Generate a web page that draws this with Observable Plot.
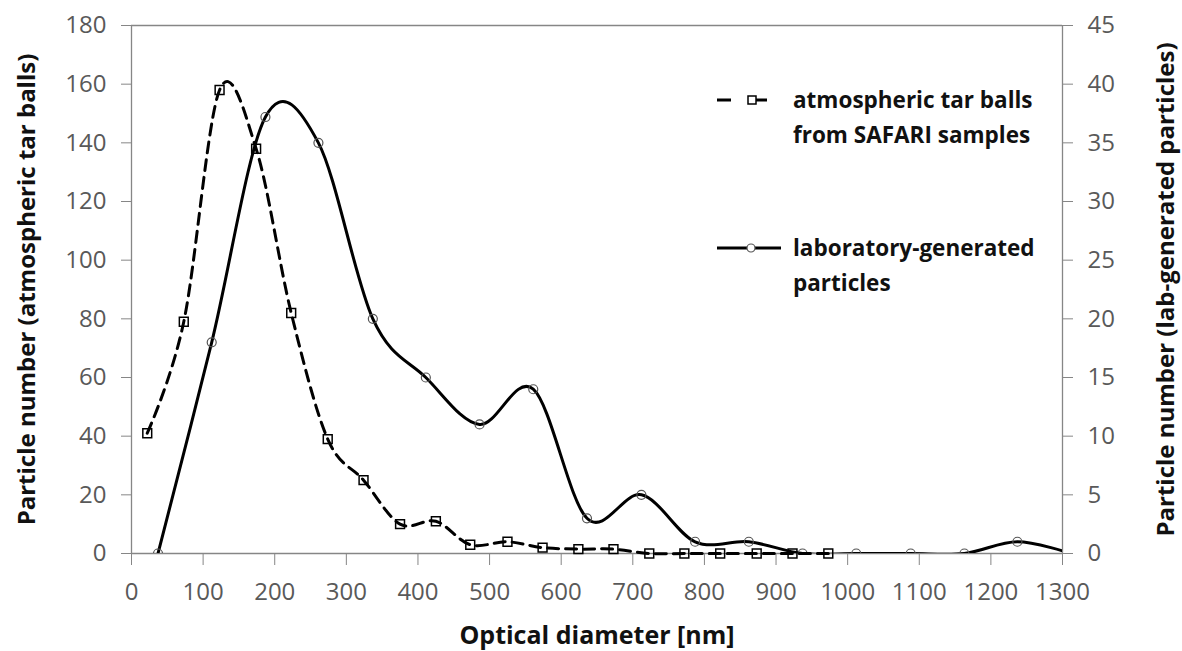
<!DOCTYPE html>
<html>
<head>
<meta charset="utf-8">
<script src="https://cdn.jsdelivr.net/npm/d3@7"></script>
<script src="https://cdn.jsdelivr.net/npm/@observablehq/plot@0.6"></script>
<style>
  html, body { margin: 0; padding: 0; background: #fff; }
  #wrap { position: relative; width: 1182px; height: 651px; font-family: "Open Sans", sans-serif; }
  #legend { position: absolute; left: 717px; top: 0; font-weight: 700; font-size: 22.5px; color: #111; }
  .item { position: absolute; left: 0; white-space: nowrap; }
  .item svg { position: absolute; left: 0; }
  .item .lbl { position: absolute; left: 76px; line-height: 35px; }
</style>
</head>
<body>
<div id="wrap"><div id="legend"></div></div>
<script>
// Atmospheric tar balls (left axis)
const tarX = [22, 73, 123, 174, 223, 274, 324, 375, 425, 473, 525, 574, 624, 673, 723, 772, 822, 873, 923, 973];
const tarY = [41, 79, 158, 138, 82, 39, 25, 10, 11, 3, 4, 2, 1.5, 1.5, 0, 0, 0, 0, 0, 0];
// Laboratory-generated particles (right axis)
const labX = [37, 112, 187, 261, 337, 411, 486, 561, 636, 712, 787, 862, 937, 1012, 1088, 1163, 1237, 1312];
const labY = [0, 18, 37.2, 35, 20, 15, 11, 14, 3, 5, 1, 1, 0, 0, 0, 0, 1, 0];
// Axis ticks
const xTicks = [0, 100, 200, 300, 400, 500, 600, 700, 800, 900, 1000, 1100, 1200, 1300];
const leftTicks = [0, 20, 40, 60, 80, 100, 120, 140, 160, 180];
const rightTicks = [0, 5, 10, 15, 20, 25, 30, 35, 40, 45];
const ratio = 180 / 45;
const legendLabels = [["atmospheric tar balls", "from SAFARI samples"], ["laboratory-generated", "particles"]];

const tar = tarX.map((x, i) => ({x, y: tarY[i]}));
const lab = labX.map((x, i) => ({x, y: labY[i] * ratio}));

const gray = "#868686";
const labelGray = "#595959";

const chart = Plot.plot({
  width: 1182,
  height: 651,
  marginLeft: 131,
  marginRight: 120,
  marginTop: 25,
  marginBottom: 98,
  style: {fontFamily: "'Open Sans', sans-serif", fontSize: "24px", background: "transparent"},
  x: {domain: [0, 1300]},
  y: {domain: [0, 180]},
  marks: [
    Plot.ruleY([180], {stroke: gray, strokeWidth: 1.3}),
    Plot.ruleY([0], {stroke: gray, strokeWidth: 1.3}),
    Plot.ruleX([0], {stroke: gray, strokeWidth: 1.3}),
    Plot.ruleX([1300], {stroke: gray, strokeWidth: 1.3}),
    Plot.axisX(xTicks, {tickSize: 12, tickPadding: 17, stroke: gray, fill: labelGray, label: null, tickFormat: d => String(d)}),
    Plot.axisY(leftTicks, {anchor: "left", tickSize: 10, tickPadding: 15, stroke: gray, fill: labelGray, label: null, tickFormat: d => String(d)}),
    Plot.axisY(rightTicks.map(v => v * ratio), {anchor: "right", tickSize: 10, tickPadding: 15, stroke: gray, fill: labelGray, label: null, tickFormat: d => String(d / ratio)}),
    Plot.line(lab, {x: "x", y: "y", curve: "cardinal", stroke: "#000", strokeWidth: 3, clip: true}),
    Plot.dot(lab, {x: "x", y: "y", r: 4.5, stroke: "#555", strokeWidth: 1.2, fill: "none", clip: true}),
    Plot.line(tar, {x: "x", y: "y", curve: "cardinal", stroke: "#000", strokeWidth: 3, strokeDasharray: "11,7"}),
    Plot.dot(tar, {x: "x", y: "y", symbol: "square", r: 5, stroke: "#000", strokeWidth: 1.5, fill: "none"}),
    Plot.text(["Optical diameter [nm]"], {frameAnchor: "bottom", dy: 90, lineAnchor: "bottom", textAnchor: "middle", fontSize: 25, fontWeight: 700, fill: "#111"}),
    Plot.text(["Particle number (atmospheric tar balls)"], {frameAnchor: "left", dx: -97, rotate: -90, lineAnchor: "bottom", textAnchor: "middle", fontSize: 24, fontWeight: 700, fill: "#111"}),
    Plot.text(["Particle number (lab-generated particles)"], {frameAnchor: "right", dx: 111, rotate: -90, lineAnchor: "bottom", textAnchor: "middle", fontSize: 24, fontWeight: 700, fill: "#111"})
  ]
});
const wrap = document.getElementById("wrap");
wrap.insertBefore(chart, wrap.firstChild);

// Legend
const legend = document.getElementById("legend");
const itemTops = [82, 230];
legendLabels.forEach((lines, i) => {
  const item = document.createElement("div");
  item.className = "item";
  item.style.top = itemTops[i] + "px";
  const sw = i === 0
    ? `<svg width="72" height="36" style="top:0"><line x1="0" y1="18" x2="72" y2="18" stroke="#000" stroke-width="3" stroke-dasharray="14,22"/><rect x="31" y="14" width="8" height="8" fill="#fff" stroke="#000" stroke-width="1.5"/></svg>`
    : `<svg width="72" height="36" style="top:0"><line x1="0" y1="18" x2="64" y2="18" stroke="#000" stroke-width="3"/><circle cx="34" cy="18" r="4" fill="#fff" stroke="#555" stroke-width="1.2"/></svg>`;
  item.innerHTML = sw + `<div class="lbl">${lines.join("<br>")}</div>`;
  legend.appendChild(item);
});
</script>
</body>
</html>
